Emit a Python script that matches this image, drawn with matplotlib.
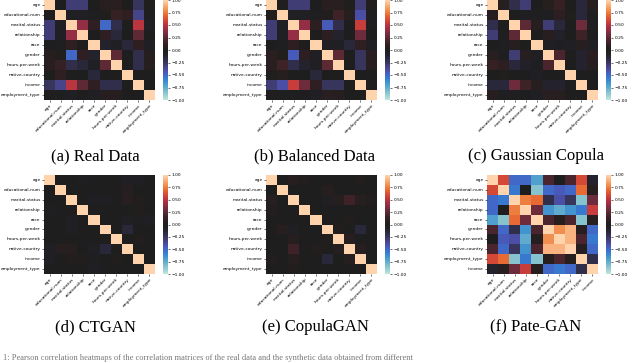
import numpy as np
import matplotlib
matplotlib.use("Agg")
import matplotlib.pyplot as plt
import seaborn as sns

labels = ["age", "educational-num", "marital-status", "relationship", "race",
          "gender", "hours-per-week", "native-country", "income", "employment_type"]
labels_pate = ["age", "educational-num", "marital-status", "relationship", "race",
               "gender", "hours-per-week", "native-country", "employment_type", "income"]

real = [
    [1.00, 0.00, -0.30, -0.30, 0.00, 0.05, 0.07, 0.00, -0.25, 0.02],
    [0.00, 1.00, -0.05, -0.05, -0.02, 0.02, 0.12, 0.10, -0.35, -0.02],
    [-0.30, -0.05, 1.00, 0.40, 0.10, -0.50, -0.20, 0.00, 0.50, -0.05],
    [-0.30, -0.05, 0.40, 1.00, 0.00, 0.10, -0.15, 0.00, 0.25, 0.00],
    [0.00, -0.02, 0.10, 0.00, 1.00, -0.10, -0.05, -0.15, 0.10, -0.05],
    [0.05, 0.02, -0.50, 0.10, -0.10, 1.00, 0.25, 0.00, -0.20, 0.05],
    [0.07, 0.12, -0.20, -0.15, -0.05, 0.25, 1.00, 0.00, -0.20, 0.05],
    [0.00, 0.10, 0.00, 0.00, -0.15, 0.00, 0.00, 1.00, 0.00, 0.00],
    [-0.25, -0.35, 0.50, 0.25, 0.10, -0.20, -0.20, 0.00, 1.00, 0.00],
    [0.02, -0.02, -0.05, 0.00, -0.05, 0.05, 0.05, 0.00, 0.00, 1.00],
]
balanced = [
    [1.00, 0.02, -0.30, -0.30, 0.00, 0.07, 0.07, 0.02, -0.30, 0.03],
    [0.02, 1.00, -0.05, -0.05, -0.03, 0.03, 0.15, 0.05, -0.40, -0.02],
    [-0.30, -0.05, 1.00, 0.40, 0.08, -0.45, -0.20, 0.00, 0.55, -0.02],
    [-0.30, -0.05, 0.40, 1.00, 0.00, 0.08, -0.10, 0.00, 0.30, 0.00],
    [0.00, -0.03, 0.08, 0.00, 1.00, -0.05, -0.05, -0.15, 0.10, -0.05],
    [0.07, 0.03, -0.45, 0.08, -0.05, 1.00, 0.25, 0.00, -0.25, 0.07],
    [0.07, 0.15, -0.20, -0.10, -0.05, 0.25, 1.00, 0.00, -0.25, 0.06],
    [0.02, 0.05, 0.00, 0.00, -0.15, 0.00, 0.00, 1.00, 0.00, 0.00],
    [-0.30, -0.40, 0.55, 0.30, 0.10, -0.25, -0.25, 0.00, 1.00, 0.00],
    [0.03, -0.02, -0.02, 0.00, -0.05, 0.07, 0.06, 0.00, 0.00, 1.00],
]
gaussian_copula = [
    [1.00, 0.05, -0.20, -0.30, 0.00, 0.05, 0.12, 0.00, -0.15, 0.05],
    [0.05, 1.00, 0.00, -0.02, -0.02, -0.02, 0.08, 0.02, -0.15, -0.02],
    [-0.20, 0.00, 1.00, 0.25, 0.05, -0.30, -0.15, 0.00, 0.30, -0.02],
    [-0.30, -0.02, 0.25, 1.00, 0.00, 0.05, -0.08, 0.00, 0.15, 0.00],
    [0.00, -0.02, 0.05, 0.00, 1.00, -0.05, -0.02, -0.05, 0.05, -0.05],
    [0.05, -0.02, -0.30, 0.05, -0.05, 1.00, 0.20, 0.00, -0.10, 0.07],
    [0.12, 0.08, -0.15, -0.08, -0.02, 0.20, 1.00, 0.00, -0.10, 0.05],
    [0.00, 0.02, 0.00, 0.00, -0.05, 0.00, 0.00, 1.00, 0.00, 0.00],
    [-0.15, -0.15, 0.30, 0.15, 0.05, -0.10, -0.10, 0.00, 1.00, 0.00],
    [0.05, -0.02, -0.02, 0.00, -0.05, 0.07, 0.05, 0.00, 0.00, 1.00],
]
ctgan = [
    [1.00, 0.00, 0.00, -0.03, 0.00, 0.00, 0.00, -0.05, -0.05, 0.00],
    [0.00, 1.00, 0.00, 0.00, 0.00, 0.00, 0.00, 0.05, 0.00, 0.00],
    [0.00, 0.00, 1.00, 0.00, -0.05, -0.05, 0.00, 0.05, 0.03, 0.00],
    [-0.03, 0.00, 0.00, 1.00, 0.00, 0.00, 0.00, 0.00, 0.03, 0.00],
    [0.00, 0.00, -0.05, 0.00, 1.00, 0.00, 0.00, -0.05, -0.03, -0.05],
    [0.00, 0.00, -0.05, 0.00, 0.00, 1.00, 0.00, -0.15, 0.00, 0.00],
    [0.00, 0.00, 0.00, 0.00, 0.00, 0.00, 1.00, 0.00, 0.03, 0.00],
    [-0.05, 0.05, 0.05, 0.00, -0.05, -0.15, 0.00, 1.00, 0.00, 0.00],
    [-0.05, 0.00, 0.03, 0.03, -0.03, 0.00, 0.03, 0.00, 1.00, 0.00],
    [0.00, 0.00, 0.00, 0.00, -0.05, 0.00, 0.00, 0.00, 0.00, 1.00],
]
copulagan = [
    [1.00, 0.00, 0.05, 0.03, 0.00, 0.00, 0.00, 0.00, 0.03, 0.00],
    [0.00, 1.00, 0.00, 0.00, 0.00, 0.05, 0.00, 0.00, 0.00, 0.00],
    [0.05, 0.00, 1.00, 0.00, 0.00, -0.05, 0.05, 0.15, 0.05, 0.03],
    [0.03, 0.00, 0.00, 1.00, 0.00, 0.00, 0.00, 0.00, 0.00, 0.00],
    [0.00, 0.00, 0.00, 0.00, 1.00, 0.00, 0.00, 0.03, 0.00, 0.00],
    [0.00, 0.05, -0.05, 0.00, 0.00, 1.00, 0.03, 0.00, -0.15, 0.00],
    [0.00, 0.00, 0.05, 0.00, 0.00, 0.03, 1.00, 0.05, 0.00, 0.00],
    [0.00, 0.00, 0.15, 0.00, 0.03, 0.00, 0.05, 1.00, 0.05, 0.00],
    [0.03, 0.00, 0.05, 0.00, 0.00, -0.15, 0.00, 0.05, 1.00, 0.00],
    [0.00, 0.00, 0.03, 0.00, 0.00, 0.00, 0.00, 0.00, 0.00, 1.00],
]
pategan = [
    [1.00, 0.60, -0.50, -0.50, -0.70, 0.20, 0.00, 0.20, 0.60, -0.10],
    [0.60, 1.00, -0.55, 0.00, -0.85, -0.50, -0.45, -0.50, 0.70, 0.05],
    [-0.50, -0.55, 1.00, 0.75, 0.70, -0.20, -0.40, -0.25, -0.85, 0.30],
    [-0.50, 0.00, 0.75, 1.00, 0.30, -0.65, -0.75, -0.65, -0.55, 0.55],
    [-0.70, -0.85, 0.70, 0.30, 1.00, 0.20, 0.05, 0.20, -0.85, 0.05],
    [0.20, -0.50, -0.20, -0.65, 0.20, 1.00, 0.80, 0.90, 0.05, -0.50],
    [0.00, -0.45, -0.40, -0.75, 0.05, 0.80, 1.00, 0.90, 0.20, -0.55],
    [0.20, -0.50, -0.25, -0.65, 0.20, 0.90, 0.90, 1.00, 0.05, -0.50],
    [0.60, 0.70, -0.85, -0.55, -0.85, 0.05, 0.20, 0.05, 1.00, -0.20],
    [-0.10, 0.05, 0.30, 0.55, 0.05, -0.50, -0.55, -0.50, -0.20, 1.00],
]

captions = ["(a) Real Data", "(b) Balanced Data", "(c) Gaussian Copula",
            "(d) CTGAN", "(e) CopulaGAN", "(f) Pate-GAN"]
matrices = [real, balanced, gaussian_copula, ctgan, copulagan, pategan]
label_sets = [labels, labels, labels, labels, labels, labels_pate]
cbar_ticks = [-1, -0.75, -0.5, -0.25, 0, 0.25, 0.5, 0.75, 1]
footer = ("1: Pearson correlation heatmaps of the correlation matrices of the real data "
          "and the synthetic data obtained from different")

W, H = 640, 363
fig = plt.figure(figsize=(W / 100, H / 100), dpi=100)
cmap = sns.color_palette("icefire", as_cmap=True)

col_x = [44, 266, 487]
row_y = [(0, 100), (175, 274)]
hm_w = 111
cb_off = 119
cb_w = 5
cap_x = [95, 315, 536]
cap_y = [156, 327]

def fx(px):
    return px / W

def fy(py):
    return 1 - py / H

for i, (mat, labs, cap) in enumerate(zip(matrices, label_sets, captions)):
    r, c = divmod(i, 3)
    top, bot = row_y[r]
    ax = fig.add_axes([fx(col_x[c]), fy(bot), hm_w / W, (bot - top) / H])
    cax = fig.add_axes([fx(col_x[c] + cb_off), fy(bot), cb_w / W, (bot - top) / H])
    sns.heatmap(np.array(mat), ax=ax, cbar_ax=cax, cmap=cmap, vmin=-1, vmax=1,
                xticklabels=labs, yticklabels=labs)
    ax.tick_params(axis="both", labelsize=3.2, length=1.5, width=0.4, pad=1)
    ax.set_xticklabels(labs, rotation=45, ha="right", rotation_mode="anchor")
    ax.set_yticklabels(labs, rotation=0)
    cax.tick_params(labelsize=3.2, length=1.5, width=0.4, pad=1)
    cax.set_yticks(cbar_ticks)
    cax.set_yticklabels([f"{v:.2f}".replace("-", "\u2212") for v in cbar_ticks])
    for s in cax.spines.values():
        s.set_visible(False)
    fig.text(fx(cap_x[c]), fy(cap_y[r]), cap, ha="center", va="center",
             family="Liberation Serif", fontsize=12)

fig.text(0.005, fy(362.5), footer, ha="left", va="bottom",
         family="Liberation Serif", fontsize=6, color="#777777")

fig.savefig("out.png", dpi=100)
